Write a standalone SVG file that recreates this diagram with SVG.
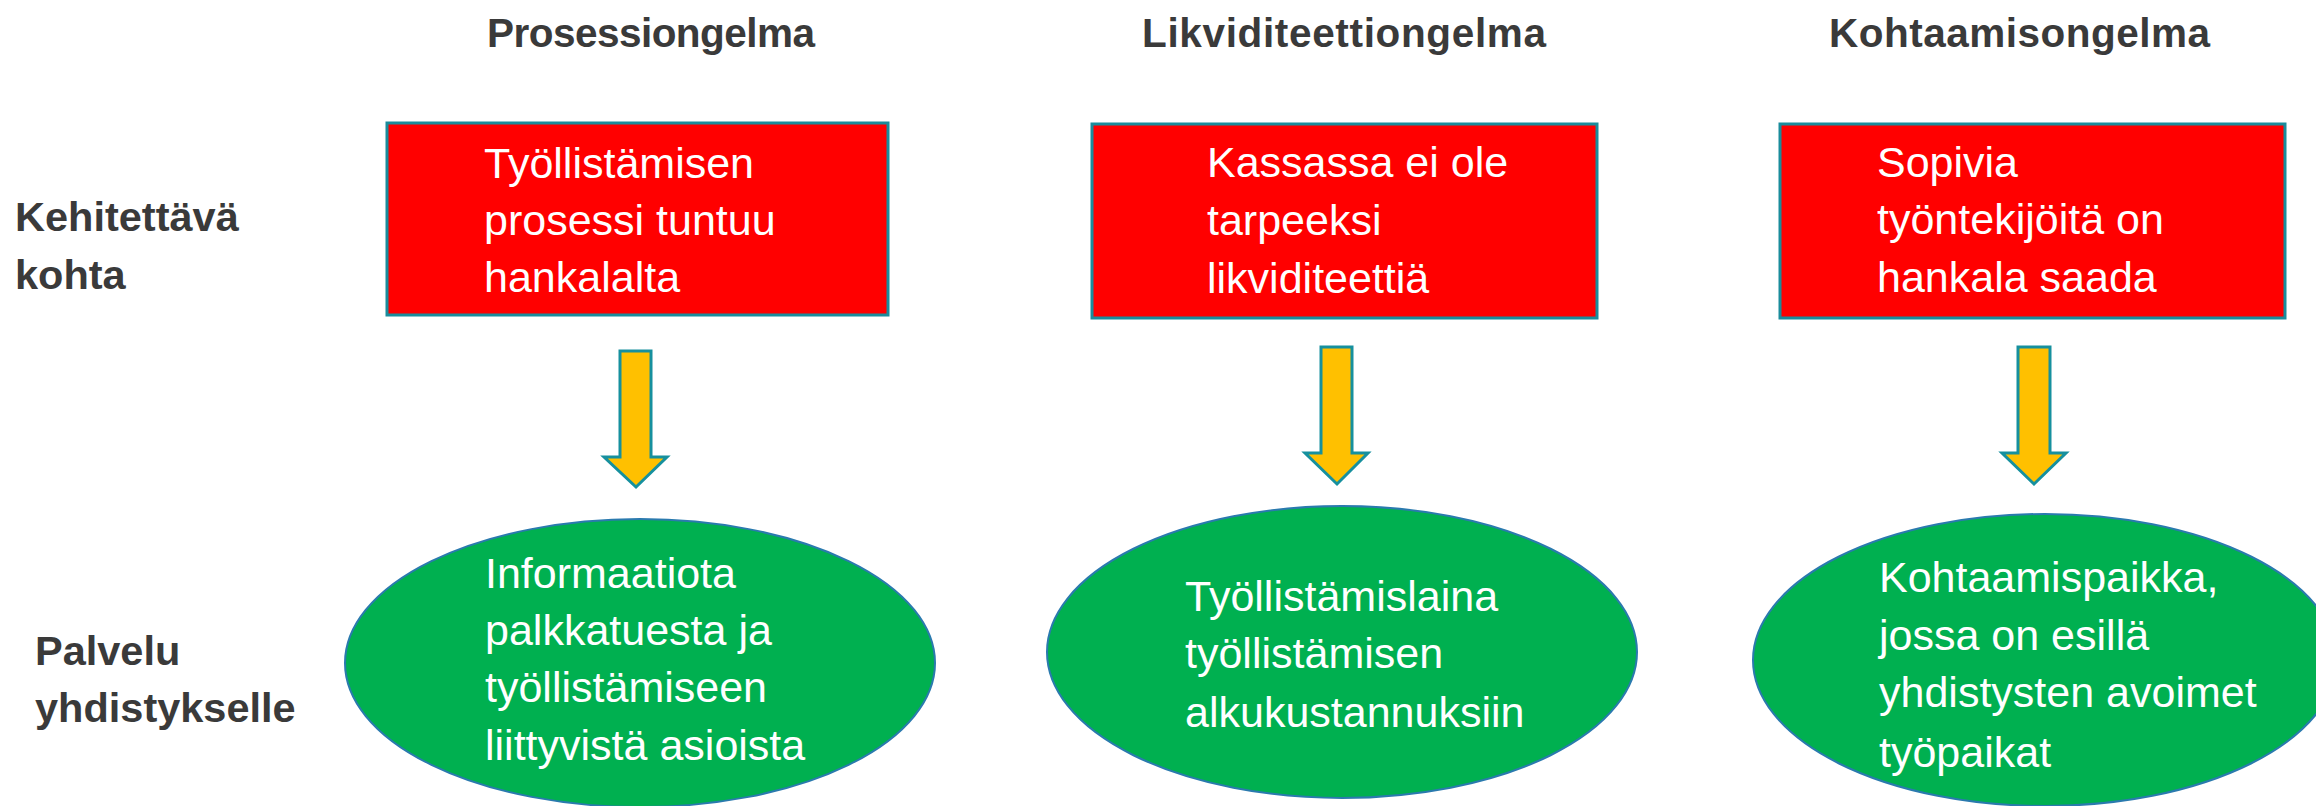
<svg xmlns="http://www.w3.org/2000/svg" width="2316" height="806" viewBox="0 0 2316 806">
<style>
.box{fill:#FF0000;stroke:#1A8C9C;stroke-width:3}
.ell{fill:#00B050;stroke:#2A7AAE;stroke-width:2}
.arrow{fill:#FFC000;stroke:#16909E;stroke-width:3;stroke-linejoin:miter}
.body{font-family:"Liberation Sans",Arial,sans-serif;font-size:43px;fill:#FFFFFF}
.head{font-family:"Liberation Sans",Arial,sans-serif;font-size:40.5px;font-weight:bold;fill:#3A3A3A}
.lab{font-family:"Liberation Sans",Arial,sans-serif;font-size:41.5px;font-weight:bold;fill:#3A3A3A}
</style>
<rect width="2316" height="806" fill="#FFFFFF"/>
<g id="titles">
<text class="head" x="487" y="47" textLength="328">Prosessiongelma</text>
<text class="head" x="1142" y="47" textLength="404">Likviditeettiongelma</text>
<text class="head" x="1829" y="47" textLength="381">Kohtaamisongelma</text>
</g>
<g id="row-labels">
<text class="lab" x="15" y="231">Kehitettävä</text>
<text class="lab" x="15" y="289">kohta</text>
<text class="lab" x="35" y="665">Palvelu</text>
<text class="lab" x="35" y="722">yhdistykselle</text>
</g>
<g id="connectors">
<polygon class="arrow" points="620,351 651,351 651,457 667,457 636,487 604,457 620,457"/>
<polygon class="arrow" points="1321,347 1352,347 1352,453 1368,453 1337,484 1305,453 1321,453"/>
<polygon class="arrow" points="2018,347 2050,347 2050,453 2066,453 2034,484 2002,453 2018,453"/>
</g>
<g id="problem-1">
<rect class="box" x="387" y="123" width="501" height="192"/>
<text class="body" x="484" y="178">Työllistämisen</text>
<text class="body" x="484" y="235">prosessi tuntuu</text>
<text class="body" x="484" y="292">hankalalta</text>
</g>
<g id="problem-2">
<rect class="box" x="1092" y="124" width="505" height="194"/>
<text class="body" x="1207" y="177">Kassassa ei ole</text>
<text class="body" x="1207" y="235">tarpeeksi</text>
<text class="body" x="1207" y="293">likviditeettiä</text>
</g>
<g id="problem-3">
<rect class="box" x="1780" y="124" width="505" height="194"/>
<text class="body" x="1877" y="177">Sopivia</text>
<text class="body" x="1877" y="234">työntekijöitä on</text>
<text class="body" x="1877" y="292">hankala saada</text>
</g>
<g id="service-1">
<ellipse class="ell" cx="640" cy="663" rx="295" ry="144"/>
<text class="body" x="485" y="588">Informaatiota</text>
<text class="body" x="485" y="645">palkkatuesta ja</text>
<text class="body" x="485" y="702">työllistämiseen</text>
<text class="body" x="485" y="760">liittyvistä asioista</text>
</g>
<g id="service-2">
<ellipse class="ell" cx="1342" cy="652" rx="295" ry="146"/>
<text class="body" x="1185" y="611">Työllistämislaina</text>
<text class="body" x="1185" y="668">työllistämisen</text>
<text class="body" x="1185" y="727">alkukustannuksiin</text>
</g>
<g id="service-3">
<ellipse class="ell" cx="2045" cy="660" rx="292" ry="146"/>
<text class="body" x="1879" y="592">Kohtaamispaikka,</text>
<text class="body" x="1879" y="650">jossa on esillä</text>
<text class="body" x="1879" y="707">yhdistysten avoimet</text>
<text class="body" x="1879" y="767">työpaikat</text>
</g>
</svg>
